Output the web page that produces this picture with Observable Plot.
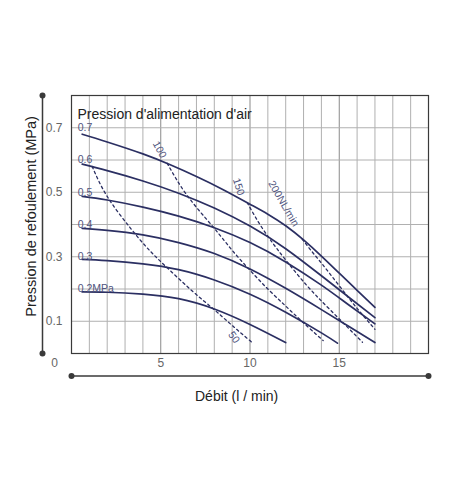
<!DOCTYPE html>
<html><head><meta charset="utf-8">
<script src="https://cdn.jsdelivr.net/npm/d3@7"></script>
<script src="https://cdn.jsdelivr.net/npm/@observablehq/plot@0.6"></script>
<style>
body{margin:0;background:#fff;}
svg{display:block;}
</style>
</head><body><div id="chart"></div>
<script>
// Supply-pressure curves (x = flow l/min, y = discharge pressure MPa)
const pressureNames = ["0.7","0.6","0.5","0.4","0.3","0.2MPa"];
const pressureLabelY = [0.7, 0.6, 0.5, 0.4, 0.3, 0.2];
const curve07 = [[0.6,0.68],[2,0.656],[4,0.619],[5.5,0.586],[7,0.549],[8.5,0.508],[10,0.463],[11,0.432],[12,0.396],[13,0.352],[14,0.302],[15,0.249],[16,0.196],[17,0.143]];
const curve06 = [[0.6,0.587],[2,0.567],[4,0.535],[6,0.497],[8,0.451],[10,0.395],[12,0.325],[14,0.241],[15.5,0.176],[17,0.111]];
const curve05 = [[0.6,0.487],[2,0.476],[4,0.454],[6,0.426],[8,0.39],[10,0.344],[12,0.284],[14,0.212],[15.5,0.152],[17,0.092]];
const curve04 = [[0.6,0.388],[2,0.382],[4,0.368],[6,0.344],[8,0.31],[10,0.262],[12,0.202],[14,0.136],[15.5,0.085],[17,0.034]];
const curve03 = [[0.6,0.292],[2,0.288],[4,0.278],[6,0.26],[8,0.228],[10,0.184],[12,0.128],[14,0.064],[14.9,0.032]];
const curve02 = [[0.6,0.191],[2,0.19],[4,0.184],[6,0.17],[8,0.138],[10,0.09],[12,0.034]];
const pressureCurves = [curve07, curve06, curve05, curve04, curve03, curve02];

// Air consumption iso-lines (dashed)
const airNames = ["50","100","150","200NL/min"];
const air50  = [[1.16,0.58],[2,0.487],[3.3,0.389],[4.4,0.318],[5.55,0.256],[6.8,0.192],[7.97,0.137],[9,0.087],[10.1,0.035]];
const air100 = [[5.36,0.59],[6.48,0.49],[7.97,0.39],[9,0.32],[10,0.258],[11,0.2],[12,0.147],[12.92,0.099],[14.1,0.04]];
const air150 = [[9.84,0.468],[10.5,0.405],[11.2,0.348],[12,0.29],[13.2,0.21],[14.5,0.135],[16.3,0.035]];
const air200 = [[12.92,0.355],[13.5,0.314],[14.05,0.277],[15,0.21],[16,0.14],[17,0.075]];
const airLines = [air50, air100, air150, air200];
const airLabelPos = [[9.1,0.05],[4.93,0.632],[9.36,0.517],[11.88,0.465]];
const airLabelRotate = [55, 62, 72, 60];

// Axes
const xTicks = [5, 10, 15];
const yTicks = [0.1, 0.3, 0.5, 0.7];
const title = "Pression d'alimentation d'air";
const xTitle = "Débit (l / min)";
const yTitle = "Pression de refoulement (MPa)";

const navy = "#2b2f62";
const labelColor = "#50557e";

const curveRows = pressureCurves.flatMap((c, i) => c.map(([x, y]) => ({x, y, p: pressureNames[i]})));
const airRows = airLines.flatMap((c, i) => c.map(([x, y]) => ({x, y, a: airNames[i]})));
const pLabels = pressureNames.map((n, i) => ({t: n, x: 0.35, y: pressureLabelY[i]}));
const aLabels = airNames.map((n, i) => ({t: n, x: airLabelPos[i][0], y: airLabelPos[i][1], r: airLabelRotate[i]}));

const gridX = d3.range(1, 20);
const gridY = d3.range(1, 8).map(d => d / 10);

const chart = Plot.plot({
  width: 458,
  height: 487,
  marginLeft: 71,
  marginRight: 30,
  marginTop: 95,
  marginBottom: 134,
  style: {fontFamily: "'Liberation Sans', Arial, sans-serif", background: "#fff"},
  x: {domain: [0, 20]},
  y: {domain: [0, 0.8]},
  marks: [
    Plot.ruleX(gridX, {stroke: d => d % 5 === 0 ? "#8a8a8a" : "#b0b0b0", strokeWidth: 1}),
    Plot.ruleY(gridY, {stroke: "#b0b0b0", strokeWidth: 1}),
    Plot.frame({stroke: "#3a3a3a", strokeWidth: 1.2}),
    Plot.axisX(xTicks, {tickSize: 0, tickPadding: 5, fontSize: 12, fill: "#666", label: null}),
    Plot.axisY(yTicks, {tickSize: 0, tickPadding: 9, fontSize: 12, fill: "#666", label: null, tickFormat: d => String(d)}),
    Plot.text(["0"], {x: 0, y: 0, dx: -17, dy: 10, fontSize: 12, fill: "#666"}),
    // decorative axis lines
    Plot.ruleX([0], {y1: 0, y2: 0.8, dx: -29, stroke: "#3a3a3a", strokeWidth: 1.5}),
    Plot.dot([0, 0.8], {x: 0, y: d => d, dx: -29, r: 3, fill: "#3a3a3a", stroke: "none"}),
    Plot.ruleY([0], {x1: 0, x2: 20, dy: 22.5, stroke: "#3a3a3a", strokeWidth: 1.5}),
    Plot.dot([0, 20], {x: d => d, y: 0, dy: 22.5, r: 3, fill: "#3a3a3a", stroke: "none"}),
    // dashed air lines
    Plot.line(airRows, {x: "x", y: "y", z: "a", stroke: navy, strokeWidth: 1.3, strokeDasharray: "2.5,3", curve: "natural"}),
    // pressure curves
    Plot.line(curveRows, {x: "x", y: "y", z: "p", stroke: navy, strokeWidth: 1.7, curve: "natural"}),
    Plot.text(pLabels, {x: "x", y: "y", text: "t", textAnchor: "start", fontSize: 10.5, fill: labelColor}),
    Plot.text(aLabels, {x: "x", y: "y", text: "t", rotate: "r", fontSize: 10.5, fill: labelColor}),
    // titles
    Plot.text([title], {frameAnchor: "top-left", dx: 6, dy: 13.5, textAnchor: "start", fontSize: 14, fill: "#222"}),
    Plot.text([xTitle], {x: 9.25, y: 0, dy: 43.5, fontSize: 14, fill: "#222"}),
    Plot.text([yTitle], {x: 0, y: 0.425, dx: -40, rotate: -90, fontSize: 14.5, fill: "#222"})
  ]
});
document.getElementById("chart").appendChild(chart);
</script>
</body></html>
